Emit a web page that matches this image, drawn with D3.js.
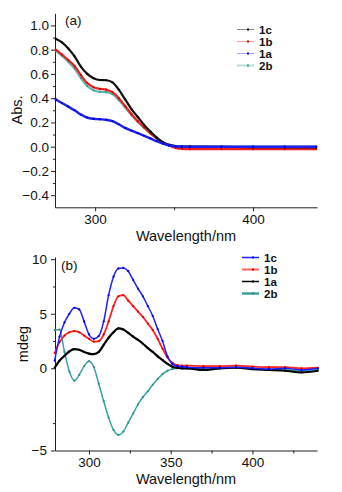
<!DOCTYPE html>
<html>
<head>
<meta charset="utf-8">
<script src="https://cdn.jsdelivr.net/npm/d3@7"></script>
<style>
  body { margin: 0; background: #fff; }
  text { font-family: "Liberation Sans", Arial, sans-serif; fill: #111; }
  .domain, .tick line { stroke: #222; }
</style>
</head>
<body>
<div id="chart"></div>
<script>
// ---- panel (a): absorption ----
var wlA = [275, 279, 283, 287, 291, 295, 299, 303, 307, 311, 315, 319, 323, 327, 331, 335, 339, 343, 347, 351, 355, 360, 380, 400, 420, 440];
var abs1c = [0.89, 0.86, 0.81, 0.745, 0.66, 0.60, 0.565, 0.55, 0.548, 0.53, 0.47, 0.39, 0.31, 0.245, 0.18, 0.125, 0.075, 0.035, 0.015, 0.005, 0.0, 0.0, -0.002, -0.003, -0.004, -0.005];
var abs1b = [0.80, 0.76, 0.715, 0.665, 0.59, 0.525, 0.49, 0.477, 0.47, 0.45, 0.40, 0.335, 0.27, 0.21, 0.16, 0.11, 0.07, 0.035, 0.01, -0.01, -0.018, -0.02, -0.02, -0.02, -0.02, -0.02];
var abs1a = [0.39, 0.36, 0.33, 0.30, 0.265, 0.24, 0.23, 0.226, 0.222, 0.21, 0.185, 0.155, 0.133, 0.112, 0.09, 0.068, 0.045, 0.025, 0.01, 0.003, 0.0, 0.0, 0.0, 0.0, 0.0, 0.0];
var abs2b = [0.79, 0.75, 0.70, 0.645, 0.565, 0.50, 0.465, 0.452, 0.45, 0.435, 0.385, 0.325, 0.26, 0.205, 0.155, 0.11, 0.07, 0.035, 0.012, 0.003, 0.0, 0.0, 0.0, 0.0, 0.0, 0.0];

// ---- panel (b): CD ----
var wlB = [279, 282, 285, 288, 291, 294, 297, 300, 303, 306, 309, 312, 315, 318, 321, 324, 327, 330, 333, 336, 339, 342, 345, 348, 351, 354, 357, 360, 370, 380, 390, 400, 410, 420, 430, 440];
var cd1c = [0.7, 2.9, 4.2, 5.0, 5.55, 5.4, 4.3, 3.1, 2.7, 2.95, 4.3, 6.7, 8.4, 9.15, 9.2, 8.9, 8.1, 7.3, 6.6, 5.7, 4.8, 3.6, 2.5, 1.1, 0.4, 0.2, 0.15, 0.1, 0.05, 0.05, 0.1, 0.0, -0.05, 0.0, -0.1, 0.0];
var cd1b = [1.4, 2.4, 3.0, 3.3, 3.4, 3.3, 3.0, 2.7, 2.45, 2.5, 3.1, 4.3, 5.7, 6.6, 6.7, 6.2, 5.7, 5.2, 4.7, 4.1, 3.5, 2.7, 1.8, 1.0, 0.5, 0.3, 0.25, 0.25, 0.2, 0.2, 0.25, 0.15, 0.1, 0.1, 0.0, 0.05];
var cd1a = [0.05, 0.7, 1.15, 1.55, 1.75, 1.7, 1.5, 1.35, 1.3, 1.5, 2.15, 2.8, 3.3, 3.65, 3.55, 3.25, 2.9, 2.6, 2.25, 1.85, 1.5, 1.1, 0.75, 0.4, 0.15, 0.05, 0.0, 0.0, -0.1, 0.0, 0.05, -0.05, -0.1, -0.15, -0.25, -0.15];
var cd2b = [3.5, 3.55, 1.5, -0.2, -0.75, -0.4, 0.2, 0.65, 0.1, -0.95, -2.0, -3.0, -3.75, -4.05, -3.85, -3.3, -2.75, -2.2, -1.75, -1.4, -1.0, -0.65, -0.35, -0.15, -0.05, 0.0, 0.0, 0.0, -0.05, 0.0, 0.1, 0.0, -0.1, -0.1, -0.15, -0.05];

var names = ["1c", "1b", "1a", "2b"];

var svg = d3.select("#chart")
  .append("svg")
  .attr("width", 342)
  .attr("height", 492);

var left = 55, right = 317;

function drawPanel(p) {
  var g = svg.append("g");

  var x = d3.scaleLinear().domain(p.xDomain).range([left, right]);
  var y = d3.scaleLinear().domain(p.yDomain).range(p.yRange);
  var bottom = p.yRange[0];

  // minor ticks first, then major axes
  g.append("g")
    .attr("transform", `translate(0, ${bottom})`)
    .call(d3.axisBottom(x).tickValues(p.xMinor).tickSize(3).tickSizeOuter(0).tickFormat(""))
    .call(a => a.select(".domain").remove());
  g.append("g")
    .attr("transform", `translate(${left}, 0)`)
    .call(d3.axisLeft(y).tickValues(p.yMinor).tickSize(2).tickSizeOuter(0).tickFormat(""))
    .call(a => a.select(".domain").remove());

  g.append("g")
    .attr("transform", `translate(0, ${bottom})`)
    .call(d3.axisBottom(x).tickValues(p.xTicks).tickSize(4).tickSizeOuter(0).tickPadding(3))
    .attr("font-size", 13.5);

  g.append("g")
    .attr("transform", `translate(${left}, 0)`)
    .call(d3.axisLeft(y).tickValues(p.yTicks).tickSize(4).tickSizeOuter(0).tickPadding(p.yPad).tickFormat(p.yFormat))
    .attr("font-size", 13.5);

  g.selectAll(".tick text").attr("fill", "#111").attr("font-family", "Liberation Sans, Arial, sans-serif");

  // axis titles
  g.append("text")
    .attr("x", (left + right) / 2)
    .attr("y", p.xTitleY)
    .attr("text-anchor", "middle")
    .attr("font-size", 14.5)
    .text("Wavelength/nm");

  g.append("text")
    .attr("transform", `translate(${p.yTitleX}, ${p.yTitleMid}) rotate(-90)`)
    .attr("text-anchor", "middle")
    .attr("font-size", 14.5)
    .text(p.yTitle);

  g.append("text")
    .attr("x", p.tagX)
    .attr("y", p.tagY)
    .attr("font-size", 13.5)
    .text(p.tag);

  var line = d3.line()
    .x((d, i) => x(p.wl[i]))
    .y(d => y(d))
    .curve(d3.curveMonotoneX);

  // draw back to front
  p.order.forEach(function(k) {
    var s = p.series[k];
    g.append("path")
      .datum(s.values)
      .attr("fill", "none")
      .attr("stroke", s.color)
      .attr("stroke-width", s.width)
      .attr("d", line);
    g.selectAll(null)
      .data(s.values)
      .enter()
      .append("circle")
      .attr("cx", (d, i) => x(p.wl[i]))
      .attr("cy", d => y(d))
      .attr("r", 1.1)
      .attr("fill", s.mark);
  });

  // legend
  var leg = g.append("g");
  names.forEach(function(n, i) {
    var s = p.series[i];
    var yy = p.legY + i * p.legStep;
    leg.append("line")
      .attr("x1", p.legX).attr("x2", p.legX + 17)
      .attr("y1", yy).attr("y2", yy)
      .attr("stroke", s.legColor)
      .attr("stroke-width", s.legWidth);
    leg.append("rect")
      .attr("x", p.legX + 10).attr("y", yy - 1)
      .attr("width", 2).attr("height", 2)
      .attr("fill", s.mark);
    leg.append("text")
      .attr("x", p.legX + 22)
      .attr("y", yy + 4)
      .attr("font-size", 11.5)
      .attr("font-weight", "bold")
      .text(n);
  });
}

drawPanel({
  wl: wlA,
  xDomain: [274.6, 440.5],
  yDomain: [-0.5, 1.1],
  yRange: [207.3, 13.3],
  xTicks: [300, 400],
  xMinor: [350],
  yTicks: [-0.4, -0.2, 0, 0.2, 0.4, 0.6, 0.8, 1.0],
  yMinor: [-0.3, -0.1, 0.1, 0.3, 0.5, 0.7, 0.9],
  yFormat: d3.format(".1f"),
  yPad: 2,
  xTitleY: 241,
  yTitle: "Abs.",
  yTitleX: 22,
  yTitleMid: 110,
  tag: "(a)",
  tagX: 65,
  tagY: 25,
  legX: 237,
  legY: 29.5,
  legStep: 12,
  order: [3, 1, 0, 2],
  series: [
    { values: abs1c, color: "#111", mark: "#000", width: 2.2, legColor: "#888", legWidth: 1 },
    { values: abs1b, color: "#f02020", mark: "#e00000", width: 2.2, legColor: "#ffa0a0", legWidth: 1 },
    { values: abs1a, color: "#1f1fef", mark: "#0000e0", width: 2.4, legColor: "#a0a0ff", legWidth: 1 },
    { values: abs2b, color: "#5bb8b3", mark: "#3a9a95", width: 2.2, legColor: "#b5dedb", legWidth: 2 }
  ]
});

drawPanel({
  wl: wlB,
  xDomain: [279.2, 439.5],
  yDomain: [-5, 0, 10.2],
  yRange: [450.5, 368.3, 257],
  xTicks: [300, 350, 400],
  xMinor: [325, 375, 425],
  yTicks: [-5, 0, 5, 10],
  yMinor: [-10 / 3, 2.5, 7.5],
  yFormat: d3.format("d"),
  yPad: 4,
  xTitleY: 484,
  yTitle: "mdeg",
  yTitleX: 28,
  yTitleMid: 344,
  tag: "(b)",
  tagX: 61,
  tagY: 270,
  legX: 242,
  legY: 257.5,
  legStep: 12,
  order: [3, 2, 1, 0],
  series: [
    { values: cd1c, color: "#1f1fff", mark: "#0000e0", width: 1.5, legColor: "#2020ff", legWidth: 1.5 },
    { values: cd1b, color: "#ff2525", mark: "#e00000", width: 1.8, legColor: "#ff6060", legWidth: 2 },
    { values: cd1a, color: "#000", mark: "#000", width: 2.2, legColor: "#000", legWidth: 1.5 },
    { values: cd2b, color: "#3aa39e", mark: "#2f8f8a", width: 1.5, legColor: "#3aa39e", legWidth: 2.5 }
  ]
});
</script>
</body>
</html>
